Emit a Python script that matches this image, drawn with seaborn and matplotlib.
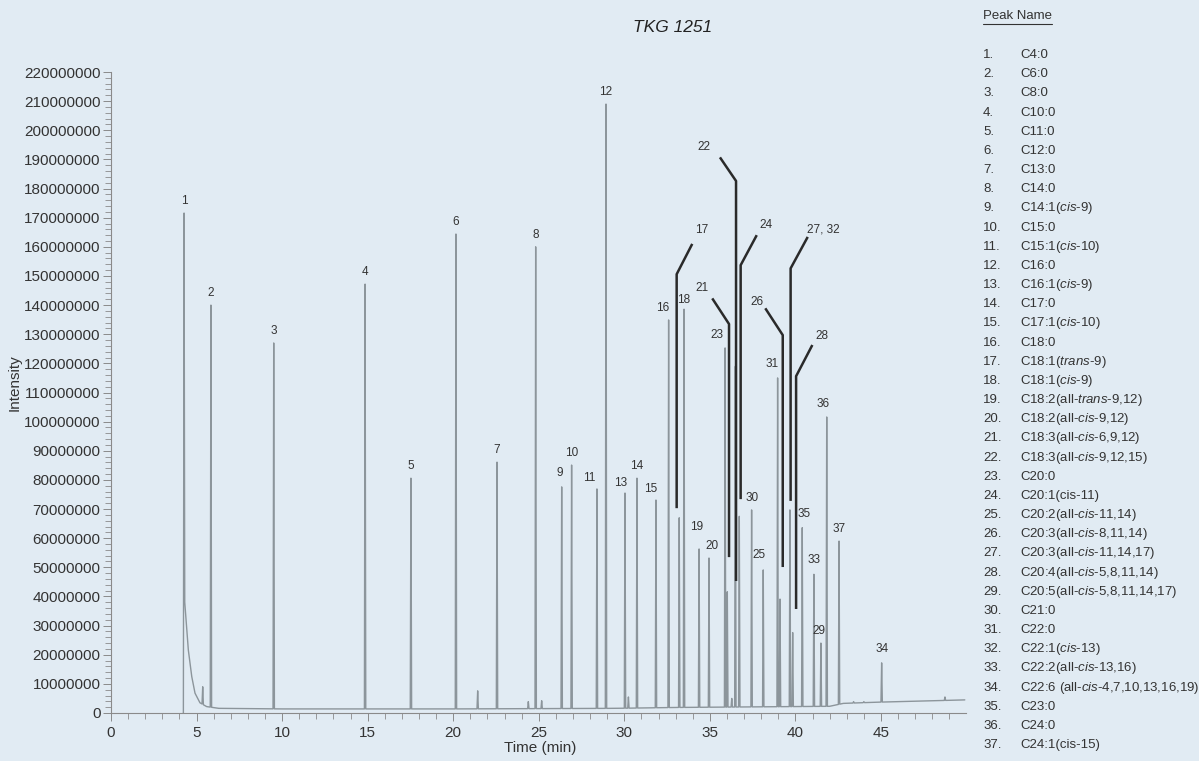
import numpy as np
import pandas as pd
import matplotlib
matplotlib.use("Agg")
import matplotlib.pyplot as plt
from matplotlib.ticker import MultipleLocator, FuncFormatter
from matplotlib.lines import Line2D
import seaborn as sns

# --- Data ---
peak_labels = ["1", "2", "3", "4", "5", "6", "7", "8", "9", "10", "11", "12", "13",
               "14", "15", "16", "17", "18", "19", "20", "21", "22", "23", "24", "25",
               "26", "27, 32", "28", "29", "30", "31", "33", "34", "35", "36", "37"]
peak_times = [4.27, 5.84, 9.51, 14.85, 17.53, 20.16, 22.56, 24.82, 26.34, 26.92, 28.40,
              28.93, 30.04, 30.74, 31.85, 32.59, 33.21, 33.49, 34.37, 34.95, 36.02, 36.49,
              35.89, 36.72, 38.12, 39.10, 39.68, 39.84, 41.49, 37.44, 38.96, 41.08, 45.04,
              40.40, 41.83, 42.55]
peak_heights = [171.6e6, 140.0e6, 127.0e6, 147.2e6, 80.6e6, 164.4e6, 86.1e6, 160.0e6,
                77.6e6, 85.1e6, 76.9e6, 209.0e6, 75.5e6, 80.6e6, 73.1e6, 134.9e6, 67.0e6,
                138.6e6, 56.3e6, 53.2e6, 41.6e6, 119.0e6, 125.3e6, 67.5e6, 49.1e6, 39.1e6,
                69.7e6, 27.6e6, 24.0e6, 69.7e6, 115.0e6, 47.6e6, 17.2e6, 63.6e6, 101.6e6,
                59.0e6]

# small unlabelled peaks
minor_times = [5.36, 21.43, 24.39, 25.17, 30.24, 36.28, 43.40, 44.00, 48.74]
minor_heights = [9.0e6, 7.6e6, 3.9e6, 4.2e6, 5.5e6, 5.0e6, 3.9e6, 3.9e6, 5.5e6]

# baseline incl. solvent tail
base_times = [4.23, 4.31, 4.52, 4.72, 4.91, 5.20, 5.59, 6.30, 10.0, 20.0, 29.5, 33.0,
              42.0, 42.8, 44.7, 48.0, 49.9]
base_levels = [0.0, 38.0e6, 21.6e6, 12.5e6, 6.8e6, 3.5e6, 2.2e6, 1.6e6, 1.4e6, 1.4e6,
               1.6e6, 1.9e6, 2.3e6, 3.3e6, 3.7e6, 4.2e6, 4.5e6]

legend_nums = [f"{i}." for i in range(1, 38)]
legend_names = [
    "C4:0", "C6:0", "C8:0", "C10:0", "C11:0", "C12:0", "C13:0", "C14:0",
    "C14:1($\\mathit{cis}$-9)", "C15:0", "C15:1($\\mathit{cis}$-10)", "C16:0",
    "C16:1($\\mathit{cis}$-9)", "C17:0", "C17:1($\\mathit{cis}$-10)", "C18:0",
    "C18:1($\\mathit{trans}$-9)", "C18:1($\\mathit{cis}$-9)",
    "C18:2(all-$\\mathit{trans}$-9,12)", "C18:2(all-$\\mathit{cis}$-9,12)",
    "C18:3(all-$\\mathit{cis}$-6,9,12)", "C18:3(all-$\\mathit{cis}$-9,12,15)",
    "C20:0", "C20:1(cis-11)", "C20:2(all-$\\mathit{cis}$-11,14)",
    "C20:3(all-$\\mathit{cis}$-8,11,14)", "C20:3(all-$\\mathit{cis}$-11,14,17)",
    "C20:4(all-$\\mathit{cis}$-5,8,11,14)", "C20:5(all-$\\mathit{cis}$-5,8,11,14,17)",
    "C21:0", "C22:0", "C22:1($\\mathit{cis}$-13)", "C22:2(all-$\\mathit{cis}$-13,16)",
    "C22:6 (all-$\\mathit{cis}$-4,7,10,13,16,19)", "C23:0", "C24:0", "C24:1(cis-15)",
]

# --- Layout: label nudges (pixels) and leader lines (data coords) ---
label_nudge = {"9": (-2, 14), "11": (-8, 11), "13": (-4, 10), "15": (-5, 11),
               "16": (-6, 12), "18": (0, 9), "19": (-2, 22), "20": (3, 12),
               "23": (-8, 13), "25": (-4, 15), "29": (-2, 12), "31": (-6, 14),
               "33": (0, 14), "34": (0, 14), "35": (2, 14), "36": (-4, 13)}
# label: (x_vertical, y_bottom, y_knee, x_end, y_end, x_text, y_text)
leaders = {
    "17": (33.06, 70.3e6, 150.6e6, 33.97, 161.0e6, 34.52, 165.7e6),
    "21": (36.12, 53.5e6, 133.5e6, 35.14, 142.3e6, 34.52, 145.7e6),
    "22": (36.53, 45.3e6, 182.6e6, 35.59, 190.7e6, 34.66, 194.3e6),
    "24": (36.80, 73.4e6, 153.7e6, 37.74, 164.0e6, 38.28, 167.5e6),
    "26": (39.26, 50.1e6, 129.7e6, 38.24, 138.9e6, 37.74, 141.2e6),
    "27, 32": (39.72, 72.8e6, 152.6e6, 40.72, 163.4e6, 41.63, 165.9e6),
    "28": (40.04, 35.7e6, 115.6e6, 40.99, 126.3e6, 41.53, 129.5e6),
}

# --- Build trace: baseline knots + narrow peaks ---
HALF_W = 0.04
pts = list(zip(base_times, base_levels))
for t, h in zip(peak_times + minor_times, peak_heights + minor_heights):
    pts.append((t - HALF_W, float(np.interp(t - HALF_W, base_times, base_levels))))
    pts.append((t, h))
    pts.append((t + HALF_W, float(np.interp(t + HALF_W, base_times, base_levels))))
trace = pd.DataFrame(sorted(pts), columns=["Time (min)", "Intensity"])

# --- Plot ---
BG = "#e1ebf3"
TXT = "#333333"
sns.set_theme(style="ticks")
plt.rcParams["font.family"] = ["Liberation Sans", "DejaVu Sans"]
plt.rcParams["mathtext.fontset"] = "custom"
plt.rcParams["mathtext.rm"] = "Liberation Sans"
plt.rcParams["mathtext.it"] = "Liberation Sans:italic"

fig = plt.figure(figsize=(11.99, 7.61), dpi=100, facecolor=BG)
ax = fig.add_axes([111 / 1199, 1 - 713 / 761, (966 - 111) / 1199, (713 - 72) / 761])
ax.set_facecolor(BG)

sns.lineplot(data=trace, x="Time (min)", y="Intensity", sort=False, estimator=None,
             color="#8c959b", linewidth=1.0, ax=ax)

ax.set_xlim(0, 49.97)
ax.set_ylim(0, 220e6)
ax.xaxis.set_major_locator(MultipleLocator(5))
ax.xaxis.set_minor_locator(MultipleLocator(1))
ax.yaxis.set_major_locator(MultipleLocator(10e6))
ax.yaxis.set_minor_locator(MultipleLocator(2e6))
ax.yaxis.set_major_formatter(FuncFormatter(lambda v, p: f"{v:.0f}"))
ax.set_xlabel("")
ax.set_ylabel("")
for s in ["top", "right"]:
    ax.spines[s].set_visible(False)
for s in ["left", "bottom"]:
    ax.spines[s].set_color("#8a8a8a")
    ax.spines[s].set_linewidth(0.8)
ax.tick_params(which="major", length=5.5, width=0.7, color="#8a8a8a",
               labelsize=11, labelcolor=TXT)
ax.tick_params(which="minor", length=4, width=0.6, color="#8a8a8a")
ax.tick_params(axis="y", which="major", pad=2)
ax.tick_params(axis="x", which="major", pad=4)

# peak labels
for lab, t, h in zip(peak_labels, peak_times, peak_heights):
    if lab in leaders:
        continue
    dx, dy = label_nudge.get(lab, (0, 12))
    ax.annotate(lab, (t, h), xytext=(dx, dy), textcoords="offset pixels",
                ha="center", va="center", fontsize=8.5, color=TXT)

for lab, (xv, yb, yk, xe, ye, xt, yt) in leaders.items():
    ax.plot([xv, xv, xe], [yb, yk, ye], color="#2a2a2a", linewidth=1.8,
            solid_capstyle="butt", zorder=3)
    ax.text(xt, yt, lab, ha="center", va="center", fontsize=8.5, color=TXT)

# titles / axis labels
fig.text(673 / 1199, 1 - 28 / 761, "TKG 1251", ha="center", va="center",
         fontsize=12.5, style="italic", color="#222222")
fig.text(15 / 1199, 1 - 383 / 761, "Intensity", rotation=90, ha="center", va="center",
         fontsize=11, color=TXT)
fig.text(540 / 1199, 1 - 748 / 761, "Time (min)", ha="center", va="center",
         fontsize=11, color=TXT)

# peak name list
hdr = fig.text(983 / 1199, 1 - 16 / 761, "Peak Name", ha="left", va="center",
               fontsize=9.5, color=TXT)
fig.canvas.draw()
bb = hdr.get_window_extent()
y_ul = (bb.y0 - 1.5) / fig.bbox.height
fig.add_artist(Line2D([bb.x0 / fig.bbox.width, bb.x1 / fig.bbox.width], [y_ul, y_ul],
                      color=TXT, linewidth=0.8))
for i, (num, name) in enumerate(zip(legend_nums, legend_names)):
    y = 1 - (55 + i * 19.17) / 761
    fig.text(983 / 1199, y, num, ha="left", va="center", fontsize=9.5, color=TXT)
    fig.text(1020 / 1199, y, name, ha="left", va="center", fontsize=9.5, color=TXT)

fig.savefig("out.png", dpi=100, facecolor=BG)
